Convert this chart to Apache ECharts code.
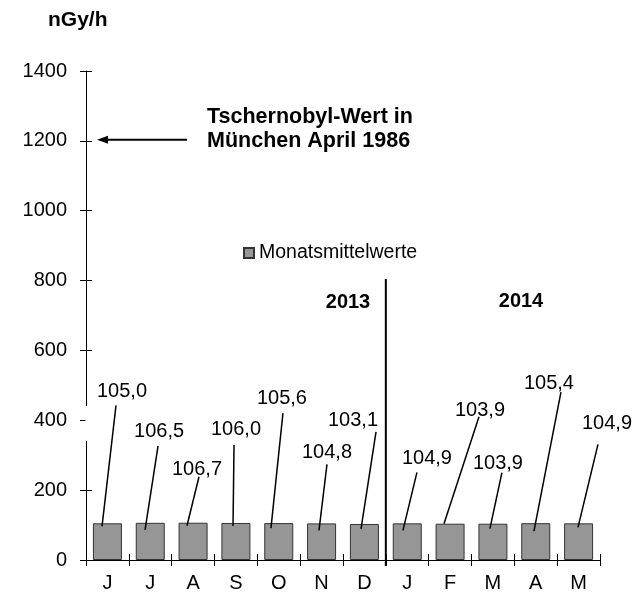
<!DOCTYPE html>
<html>
<head>
<meta charset="utf-8">
<script src="https://cdn.jsdelivr.net/npm/echarts@6/dist/echarts.min.js"></script>
<style>html,body{margin:0;padding:0;background:#fff}#c{width:636px;height:595px}</style>
</head>
<body>
<div id="c"></div>
<script>
// ---- data ----
var categories = ['J','J','A','S','O','N','D','J','F','M','A','M'];
var values = [105.0,106.5,106.7,106.0,105.6,104.8,103.1,104.9,103.9,103.9,105.4,104.9];
var yTicks = {min: 0, max: 1400, interval: 200};
var seriesName = 'Monatsmittelwerte';
var yearLabels = ['2013', '2014'];
var unitLabel = 'nGy/h';
var chernobylValue = 1200;
var chernobylText = 'Tschernobyl-Wert in\nMünchen April 1986';

// ---- label layout (pixel offsets relative to bar top centre; styling only) ----
// [labelDx, labelDy, lineStartDx, lineStartDy, lineEndDx, lineEndDy]
var labelLayout = [
  [14.6,-132, 8.6,-118, -5.4,3],
  [8.8,-91, 7.8,-77, -5.2,7],
  [3.9,-53, 5.9,-46, -6.1,3],
  [0.1,-93, -1.9,-78, -2.9,3],
  [3.2,-125, 4.2,-110, -7.8,5],
  [5.4,-71, 5.4,-59, -2.6,7],
  [-11.4,-104, 11.6,-92, -3.4,5],
  [19.7,-65, 9.7,-51, -4.3,7],
  [29.9,-113, 28.9,-107, -6.1,0],
  [5,-60, 9,-51, -3,5],
  [13.2,-140, 25.2,-131, -1.8,8],
  [28.4,-100, 19.4,-79, -0.6,4]
];

var FONT = '"Liberation Sans", Arial, sans-serif';
var chart = echarts.init(document.getElementById('c'), null, {renderer: 'canvas'});

function fmt(v){ return v.toFixed(1).replace('.', ','); }

var axisLab = {color:'#000', fontFamily: FONT, fontSize: 20};

chart.setOption({
  animation: false,
  backgroundColor: '#fff',
  grid: {left: 86, right: 36, top: 71, bottom: 35, containLabel: false},
  legend: {
    data: [seriesName], left: 243, top: 243, padding: 0, icon: 'rect', itemWidth: 10, itemHeight: 10, itemGap: 5,
    textStyle: {color:'#000', fontFamily: FONT, fontSize: 19.5, padding: 0}
  },
  xAxis: [{
    type: 'category', data: categories, boundaryGap: true,
    axisLine: {lineStyle: {color:'#000', width: 1}},
    axisTick: {show: true, length: 6, lineStyle: {color:'#000'}},
    axisLabel: Object.assign({margin: 13, interval: 0}, axisLab),
    splitLine: {show: false}
  },{
    type: 'category', data: categories, boundaryGap: true, position: 'bottom',
    axisLine: {show: false},
    axisTick: {show: true, inside: true, length: 6, lineStyle: {color:'#000'}},
    axisLabel: {show: false}, splitLine: {show: false}
  }],
  yAxis: [{
    type: 'value', min: yTicks.min, max: yTicks.max, interval: yTicks.interval,
    axisLine: {show: true, lineStyle: {color:'#000', width: 1}},
    axisTick: {show: true, length: 6, lineStyle: {color:'#000'}},
    axisLabel: Object.assign({margin: 19, formatter: function(v){ return String(v); }}, axisLab),
    splitLine: {show: false}
  },{
    type: 'value', min: yTicks.min, max: yTicks.max, interval: yTicks.interval, position: 'left',
    axisLine: {show: false},
    axisTick: {show: true, inside: true, length: 6, lineStyle: {color:'#000'}},
    axisLabel: {show: false}, splitLine: {show: false}
  }],
  series: [{
    name: seriesName, type: 'bar', data: values, barWidth: 29,
    itemStyle: {color: '#969696', borderColor: '#333', borderWidth: 1},
    z: 2
  },{
    name: 'labels', type: 'custom', data: values.map(function(v,i){ return [i, v]; }),
    z: 5,
    renderItem: function(params, api){
      var i = api.value(0), v = api.value(1);
      var p = api.coord([i, v]);
      var L = labelLayout[i];
      return {
        type: 'group',
        children: [{
          type: 'line',
          shape: {x1: p[0]+L[2], y1: p[1]+L[3], x2: p[0]+L[4], y2: p[1]+L[5]},
          style: {stroke: '#000', lineWidth: 1.5}
        },{
          type: 'text',
          style: {text: fmt(v), x: p[0]+L[0], y: p[1]+L[1], align: 'center', verticalAlign: 'middle',
                  fill: '#000', font: '20px ' + FONT}
        }]
      };
    }
  }]
});

// ---- annotations positioned via the axes ----
var y1200 = chart.convertToPixel({yAxisIndex: 0}, chernobylValue);
var y0 = chart.convertToPixel({yAxisIndex: 0}, 0);
var xD = chart.convertToPixel({xAxisIndex: 0}, 6);
var xJ = chart.convertToPixel({xAxisIndex: 0}, 7);
var xDiv = (xD + xJ) / 2;

chart.setOption({
  graphic: [
    {type: 'rect', shape: {x: 85.5, y: 406, width: 8, height: 35}, style: {fill: '#fff'}, z: 10},
    {type: 'text', style: {text: unitLabel, x: 48, y: 20, verticalAlign: 'middle', fill: '#000', font: 'bold 21px ' + FONT}},
    {type: 'line', shape: {x1: 187, y1: y1200 - 1, x2: 104, y2: y1200 - 1}, style: {stroke: '#000', lineWidth: 2}, z: 10},
    {type: 'polygon', shape: {points: [[97, y1200 - 1], [108, y1200 - 5], [108, y1200 + 3]]}, style: {fill: '#000'}, z: 10},
    {type: 'text', style: {text: chernobylText, x: 207, y: 129, verticalAlign: 'middle', lineHeight: 24,
      fill: '#000', font: 'bold 21.5px ' + FONT}},
    {type: 'line', shape: {x1: xDiv, y1: 279, x2: xDiv, y2: y0 + 6}, style: {stroke: '#000', lineWidth: 2}, z: 10},
    {type: 'text', style: {text: yearLabels[0], x: 348, y: 302, align: 'center', verticalAlign: 'middle', fill: '#000', font: 'bold 20px ' + FONT}},
    {type: 'text', style: {text: yearLabels[1], x: 521, y: 301, align: 'center', verticalAlign: 'middle', fill: '#000', font: 'bold 20px ' + FONT}}
  ]
});
</script>
</body>
</html>
